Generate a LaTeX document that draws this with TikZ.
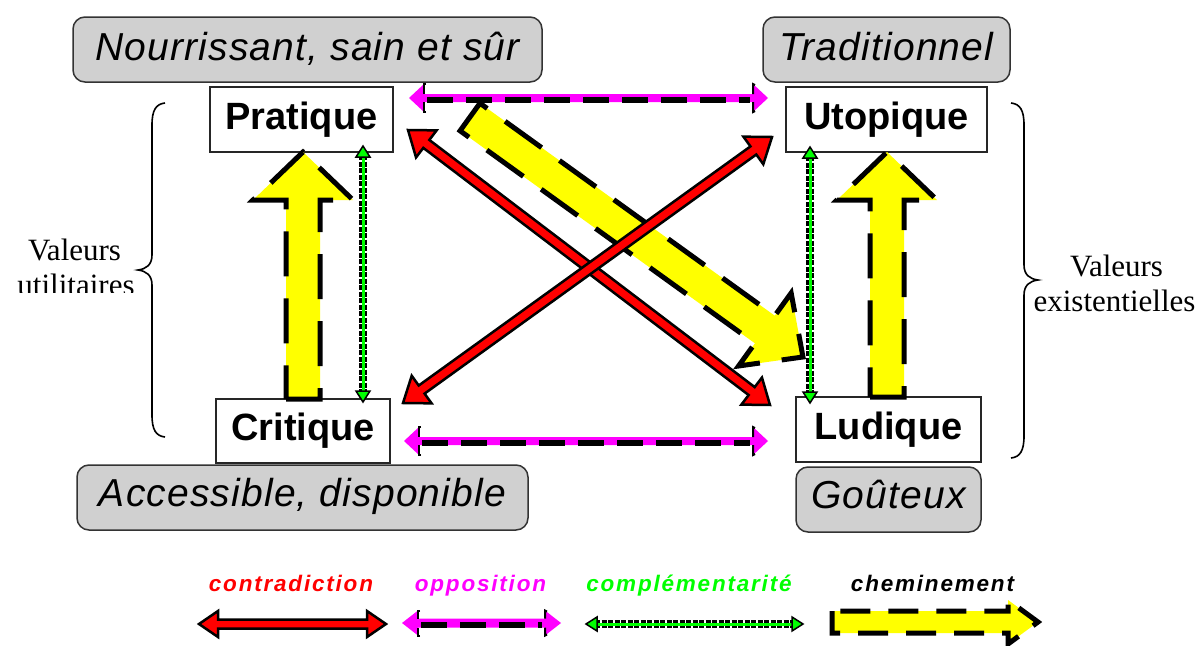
\documentclass[tikz,border=0pt]{standalone}
\usepackage{fontspec}
\setmainfont{Liberation Serif}
\newfontfamily\boxfont{Liberation Sans}
\newfontfamily\grayfont[LetterSpace=3]{Liberation Sans}
\newfontfamily\legfont[LetterSpace=8]{Liberation Sans}

\definecolor{cyel}{RGB}{255,255,0}
\definecolor{cmag}{RGB}{255,0,255}
\definecolor{cgrn}{RGB}{0,255,0}
\definecolor{cred}{RGB}{255,0,0}
\definecolor{cgray}{RGB}{208,208,208}

% geometry between two named coordinates
\newcommand\arrgeom[2]{%
  \pgfpointdiff{\pgfpointanchor{#1}{center}}{\pgfpointanchor{#2}{center}}%
  \pgfgetlastxy{\arrdx}{\arrdy}%
  \pgfmathsetmacro\arrang{atan2(\arrdy,\arrdx)}%
  \pgfmathsetmacro\arrlen{veclen(\arrdx,\arrdy)}}

% red double block arrow: from, to, half shaft, half head, head length
\newcommand\contraarrow[5]{%
  \arrgeom{#1}{#2}%
  \begin{scope}[shift={(#1)},rotate=\arrang]
    \draw[contra] (0,0) -- (#5,#4) -- (#5,#3) -- ({\arrlen-#5},#3) -- ({\arrlen-#5},#4)
      -- (\arrlen,0) -- ({\arrlen-#5},-#4) -- ({\arrlen-#5},-#3) -- (#5,-#3) -- (#5,-#4) -- cycle;
  \end{scope}}

% magenta dashed double arrow
\newcommand\opposarrow[5]{%
  \arrgeom{#1}{#2}%
  \begin{scope}[shift={(#1)},rotate=\arrang]
    \fill[cmag] (0,0) -- (#5,#4) -- (#5,#3) -- ({\arrlen-#5},#3) -- ({\arrlen-#5},#4)
      -- (\arrlen,0) -- ({\arrlen-#5},-#4) -- ({\arrlen-#5},-#3) -- (#5,-#3) -- (#5,-#4) -- cycle;
    \draw[oppdash] ({#5+3},2) -- ({\arrlen-#5-3},2);
    \draw[headline] ({#5+2},#4) -- (#5,#4) -- (#5,#3);
    \draw[headline] ({#5+2},-#4) -- (#5,-#4) -- (#5,-#3);
    \draw[headline] ({\arrlen-#5},#3) -- ({\arrlen-#5},#4) -- ({\arrlen-#5+2},{#4-1});
    \draw[headline] ({\arrlen-#5},-#3) -- ({\arrlen-#5},-#4) -- ({\arrlen-#5+2},{1-#4});
  \end{scope}}

% green complementarity double arrow
\newcommand\complarrow[2]{%
  \arrgeom{#1}{#2}%
  \begin{scope}[shift={(#1)},rotate=\arrang]
    \draw[black, line width=8pt, dash pattern=on 5pt off 1.5pt] (9,0) -- ({\arrlen-9},0);
    \draw[cgrn, line width=3pt] (9,0) -- ({\arrlen-9},0);
    \filldraw[fill=cgrn, draw=black, line width=1.5pt] (0,0) -- (11,7) -- (11,-7) -- cycle;
    \filldraw[fill=cgrn, draw=black, line width=1.5pt] (\arrlen,0) -- ({\arrlen-11},7) -- ({\arrlen-11},-7) -- cycle;
  \end{scope}}

% yellow single block arrow with dashed outline: from, to, half shaft, half head, head length, outline style
\newcommand\chemarrow[6]{%
  \arrgeom{#1}{#2}%
  \begin{scope}[shift={(#1)},rotate=\arrang]
    \fill[cyel] (0,#3) -- ({\arrlen-#5},#3) -- ({\arrlen-#5},#4) -- (\arrlen,0)
      -- ({\arrlen-#5},-#4) -- ({\arrlen-#5},-#3) -- (0,-#3) -- cycle;
    \draw[#6] (0,-#3) -- (0,#3) -- ({\arrlen-#5},#3) -- ({\arrlen-#5},#4) -- (\arrlen,0)
      -- ({\arrlen-#5},-#4) -- ({\arrlen-#5},-#3) -- cycle;
  \end{scope}}

\tikzset{
  whitebox/.style={draw=black!85, line width=1.5pt, fill=white, inner sep=0pt,
    text height=27pt, text depth=8pt, font=\boxfont\bfseries\fontsize{38}{40}\selectfont},
  graybox/.style={draw=black!80, line width=1.5pt, fill=cgray, rounded corners=12pt,
    inner sep=0pt, text height=29pt, text depth=8pt,
    font=\grayfont\itshape\fontsize{39}{41}\selectfont},
  grayboxlow/.style={graybox, text depth=12pt},
  valtext/.style={font=\fontsize{31}{35}\selectfont, inner sep=0pt, anchor=base},
  legtext/.style={font=\legfont\bfseries\itshape\fontsize{22.5}{25}\selectfont, inner sep=0pt, anchor=base},
  bracepath/.style={line width=1.6pt, black},
  contra/.style={fill=cred, draw=black, line width=2.5pt, line join=miter},
  oppdash/.style={black, line width=6pt, dash pattern=on 26pt off 13pt},
  headline/.style={black, line width=2pt},
  chemdash/.style={black, line width=5pt, dash pattern=on 45pt off 22pt},
  chemdashsmall/.style={black, line width=5pt, dash pattern=on 30pt off 18pt},
}

\begin{document}
\begin{tikzpicture}[x=1pt,y=-1pt]
\useasboundingbox (0,0) rectangle (1204,645);
\fill[white] (0,0) rectangle (1204,645);

% labels in gray boxes
\node[graybox, minimum width=469pt, minimum height=65pt] (nour) at (307.5,49.5) {Nourrissant, sain et sûr};
\node[graybox, minimum width=247pt, minimum height=65pt] (trad) at (886.5,49.5) {Traditionnel};
\node[grayboxlow, minimum width=451pt, minimum height=65pt] (acce) at (302.5,497.5) {Accessible, disponible};
\node[grayboxlow, minimum width=185pt, minimum height=65pt] (gout) at (888.5,499.5) {Goûteux};

% main boxes
\node[whitebox, minimum width=183pt, minimum height=65pt] (prat) at (301.5,119.5) {Pratique};
\node[whitebox, minimum width=201pt, minimum height=65pt] (utop) at (886.5,119.5) {Utopique};
\node[whitebox, minimum width=174pt, minimum height=64pt] (crit) at (303,431) {Critique};
\node[whitebox, minimum width=185pt, minimum height=65pt] (ludi) at (888.5,429.5) {Ludique};

% braces
\draw[bracepath] (165,103) .. controls (156,104) and (152,110) .. (152,125) -- (152,255)
  .. controls (152,265) and (146,269) .. (138,270) .. controls (146,271) and (152,275) .. (152,285)
  -- (152,415) .. controls (152,430) and (156,436) .. (165,437);
\draw[bracepath] (1011,103) .. controls (1020,104) and (1024,110) .. (1024,125) -- (1024,265)
  .. controls (1024,275) and (1030,279) .. (1038,280) .. controls (1030,281) and (1024,285) .. (1024,295)
  -- (1024,436) .. controls (1024,451) and (1020,457) .. (1011,458);

% side texts
\node[valtext] (lval) at (74.5,260) {Valeurs};
\begin{scope}
  \clip (0,0) rectangle (200,292.5);
  \node[valtext] (lval2) at (76,295) {utilitaires};
\end{scope}
\node[valtext] (rval) at (1116.5,276) {Valeurs};
\node[valtext] (rval2) at (1114.5,311) {existentielles};

% arrow end points
\coordinate (yl1) at (303,399);  \coordinate (yl2) at (303,152);
\coordinate (yr1) at (887,397);  \coordinate (yr2) at (887,152);
\coordinate (yd1) at (470,117);  \coordinate (yd2) at (803,357);
\coordinate (r1a) at (408,130);  \coordinate (r1b) at (770,405);
\coordinate (r2a) at (403,403);  \coordinate (r2b) at (772,137);
\coordinate (m1a) at (409,98);   \coordinate (m1b) at (768,98);
\coordinate (m2a) at (404,441);  \coordinate (m2b) at (768,441);
\coordinate (g1a) at (363,146);  \coordinate (g1b) at (363,402);
\coordinate (g2a) at (810,147);  \coordinate (g2b) at (810,403);

% cheminement
\chemarrow{yl1}{yl2}{17}{50}{48}{chemdash}
\chemarrow{yr1}{yr2}{17}{50}{48}{chemdash}
\chemarrow{yd1}{yd2}{17}{45}{47}{chemdash}

% contradiction
\contraarrow{r1a}{r1b}{5}{17}{23}
\contraarrow{r2a}{r2b}{5}{17}{23}

% opposition
\opposarrow{m1a}{m1b}{4}{14}{15}
\opposarrow{m2a}{m2b}{4}{14}{15}

% complementarite
\complarrow{g1a}{g1b}
\complarrow{g2a}{g2b}

% legend
\node[legtext, text=cred] (lcon) at (291,591) {contradiction};
\node[legtext, text=cmag] (lopp) at (480.5,591) {opposition};
\node[legtext, text=cgrn] (lcom) at (689,591) {complémentarité};
\node[legtext, text=black] (lche) at (932.5,591) {cheminement};

\coordinate (lr1) at (199,624); \coordinate (lr2) at (386,624);
\coordinate (lm1) at (402,623); \coordinate (lm2) at (561,623);
\coordinate (lg1) at (586,624); \coordinate (lg2) at (803,624);
\coordinate (ly1) at (832,622); \coordinate (ly2) at (1038,622);

\contraarrow{lr1}{lr2}{4.5}{13}{19}
\opposarrow{lm1}{lm2}{4.5}{12.5}{16}
\complarrow{lg1}{lg2}
\chemarrow{ly1}{ly2}{11}{22}{30}{chemdashsmall}
\end{tikzpicture}
\end{document}
